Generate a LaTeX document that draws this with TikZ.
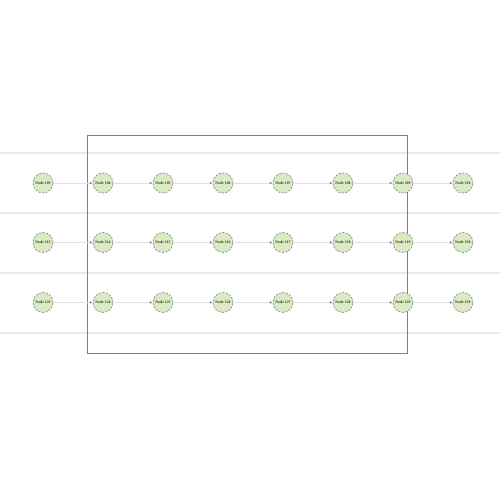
\documentclass[tikz,border=0pt]{standalone}
\usepackage{xcolor}
\usepackage{tikz}
\usepackage{fontspec}
\setmainfont{Liberation Serif}
\usetikzlibrary{positioning,arrows.meta}
\definecolor{nodegreen}{RGB}{218,234,196}
\definecolor{ringgray}{RGB}{140,140,140}
\definecolor{bandgray}{RGB}{232,232,232}
\definecolor{edgegray}{RGB}{225,225,225}
\definecolor{framegray}{RGB}{128,128,128}
\definecolor{labelgreen}{RGB}{45,65,25}

\tikzset{
  gridnode/.style={circle, draw=ringgray, dash pattern=on 1.2pt off 0.8pt, fill=nodegreen, line width=0.4pt,
    minimum size=0.4cm, inner sep=0pt, text=labelgreen, font=\fontsize{2.2}{2.4}\selectfont\bfseries},
  link/.style={edgegray, line width=0.5pt, -{Latex[length=1.6pt, width=1.6pt, color=ringgray]}}
}

\begin{document}
\begin{tikzpicture}[x=0.02cm, y=-0.02cm, node distance=1.2cm, every node/.style={align=center}]
  \useasboundingbox (0,0) rectangle (500,500);

  % Bands
  \draw[bandgray, line width=1pt] (0,153) -- (500,153);
  \draw[bandgray, line width=1pt] (0,213) -- (500,213);
  \draw[bandgray, line width=1pt] (0,273) -- (500,273);
  \draw[bandgray, line width=1pt] (0,333) -- (500,333);

  % Frame
  \draw[framegray, line width=0.5pt] (87,135) rectangle (407,353);

  % Nodes
  \node[gridnode] (n103) at (43,183) {Node 103};
  \node[gridnode, right of=n103] (n104) {Node 104};
  \node[gridnode, right of=n104] (n105) {Node 105};
  \node[gridnode, right of=n105] (n106) {Node 106};
  \node[gridnode, right of=n106] (n107) {Node 107};
  \node[gridnode, right of=n107] (n108) {Node 108};
  \node[gridnode, right of=n108] (n109) {Node 109};
  \node[gridnode, right of=n109] (n110) {Node 110};

  \node[gridnode, below of=n103, yshift=0.01cm] (n113) {Node 113};
  \node[gridnode, right of=n113] (n114) {Node 114};
  \node[gridnode, right of=n114] (n115) {Node 115};
  \node[gridnode, right of=n115] (n116) {Node 116};
  \node[gridnode, right of=n116] (n117) {Node 117};
  \node[gridnode, right of=n117] (n118) {Node 118};
  \node[gridnode, right of=n118] (n119) {Node 119};
  \node[gridnode, right of=n119] (n120) {Node 120};

  \node[gridnode, below of=n113] (n123) {Node 123};
  \node[gridnode, right of=n123] (n124) {Node 124};
  \node[gridnode, right of=n124] (n125) {Node 125};
  \node[gridnode, right of=n125] (n126) {Node 126};
  \node[gridnode, right of=n126] (n127) {Node 127};
  \node[gridnode, right of=n127] (n128) {Node 128};
  \node[gridnode, right of=n128] (n129) {Node 129};
  \node[gridnode, right of=n129] (n130) {Node 130};

  % Arrows
  \draw[link] (n103) -- (n104);
  \draw[link] (n104) -- (n105);
  \draw[link] (n105) -- (n106);
  \draw[link] (n106) -- (n107);
  \draw[link] (n107) -- (n108);
  \draw[link] (n108) -- (n109);
  \draw[link] (n109) -- (n110);

  \draw[link] (n113) -- (n114);
  \draw[link] (n114) -- (n115);
  \draw[link] (n115) -- (n116);
  \draw[link] (n116) -- (n117);
  \draw[link] (n117) -- (n118);
  \draw[link] (n118) -- (n119);
  \draw[link] (n119) -- (n120);

  \draw[link] (n123) -- (n124);
  \draw[link] (n124) -- (n125);
  \draw[link] (n125) -- (n126);
  \draw[link] (n126) -- (n127);
  \draw[link] (n127) -- (n128);
  \draw[link] (n128) -- (n129);
  \draw[link] (n129) -- (n130);
\end{tikzpicture}
\end{document}
